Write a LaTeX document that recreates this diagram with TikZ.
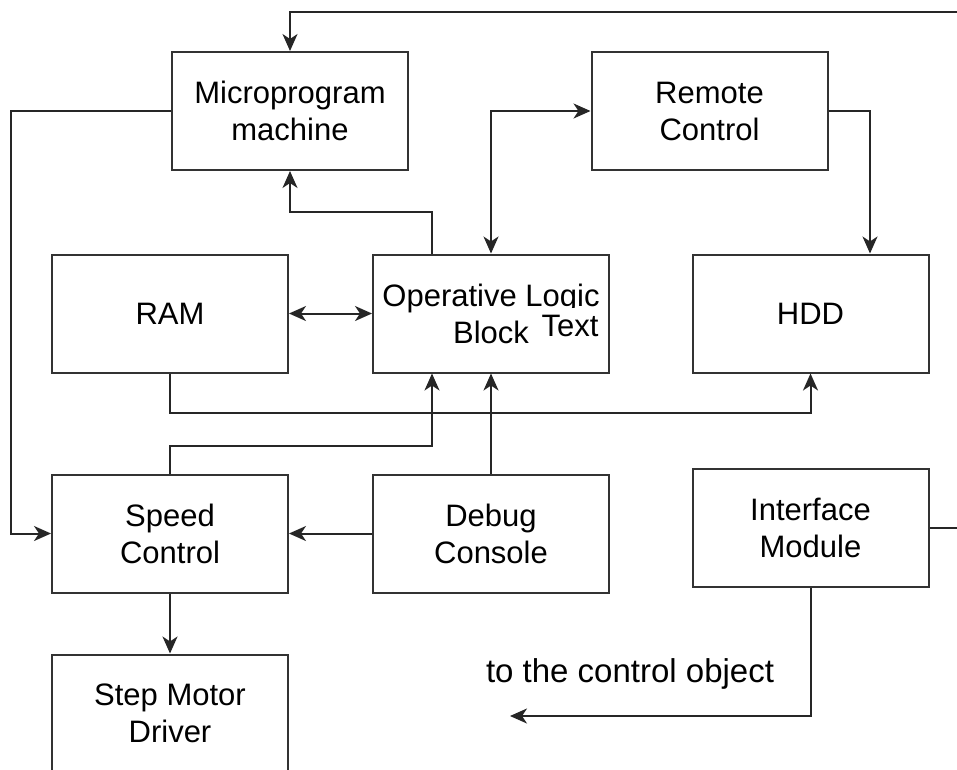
\documentclass[tikz,border=0pt]{standalone}
\usepackage{fontspec}
\setmainfont{Liberation Sans}
\usetikzlibrary{arrows.meta}
\tikzset{
  blk/.style={draw=black!80, line width=2pt, fill=white,
    minimum width=236pt, minimum height=118pt, inner sep=0pt,
    align=center, font=\fontsize{31}{37}\selectfont},
  tip/.tip={Stealth[length=17pt,width=15pt,inset=5pt]},
  wire/.style={draw=black!85, line width=2pt, -tip},
  twoway/.style={draw=black!85, line width=2pt, tip-tip},
  lbl/.style={font=\fontsize{31}{37}\selectfont, inner sep=0pt}
}
\begin{document}
\begin{tikzpicture}[x=1pt, y=-1pt]
  \useasboundingbox (0,0) rectangle (957,769);
  \clip (0,0) rectangle (957,769);
  \fill[white] (0,0) rectangle (957,769);

  % blocks
  \node[blk] (micro)  at (290,111)   {Microprogram\\machine};
  \node[blk] (remote) at (709.5,111) {Remote\\Control};
  \node[blk] (ram)    at (170,313.5) {RAM};
  \node[blk] (op)     at (491,313.5) {Operative Logic\\Block};
  \node[blk] (hdd)    at (810.5,313.5) {HDD};
  \node[blk] (speed)  at (170,533.5) {Speed\\Control};
  \node[blk] (debug)  at (491,533.5) {Debug\\Console};
  \node[blk] (iface)  at (810.5,527.5) {Interface\\Module};
  \node[blk] (step)   at (170,713.5) {Step Motor\\Driver};

  % stray label on the logic block
  \node[lbl, anchor=base, fill=white, inner sep=1pt, text height=27pt, text depth=1pt]
    (optext) at (570,336) {Text};

  % free ends
  \coordinate (out) at (510,716);
  \coordinate (far) at (985,12);

  % connectors
  \draw[wire] (micro.west) -- ++(-160,0) |- (speed.west);
  \draw[wire] (remote.east) -| ([xshift=59.5pt]hdd.north);
  \draw[twoway] (op.north) |- (remote.west);
  \draw[wire] ([xshift=-59pt]op.north) -- ++(0,-42) -| (micro.south);
  \draw[twoway] (ram.east) -- (op.west);
  \draw[wire] (ram.south) -- ++(0,39) -| (hdd.south);
  \draw[wire] (speed.north) -- ++(0,-28) -| ([xshift=-59pt]op.south);
  \draw[wire] (debug.north) -- (op.south);
  \draw[wire] (debug.west) -- (speed.east);
  \draw[wire] (speed.south) -- (step.north);
  \draw[wire] (iface.south) |- (out);
  \draw[wire] (iface.east) -| (far) -| (micro.north);

  \node[lbl, anchor=base, font=\fontsize{33}{39}\selectfont] (target) at (630,682) {to the control object};
\end{tikzpicture}
\end{document}
